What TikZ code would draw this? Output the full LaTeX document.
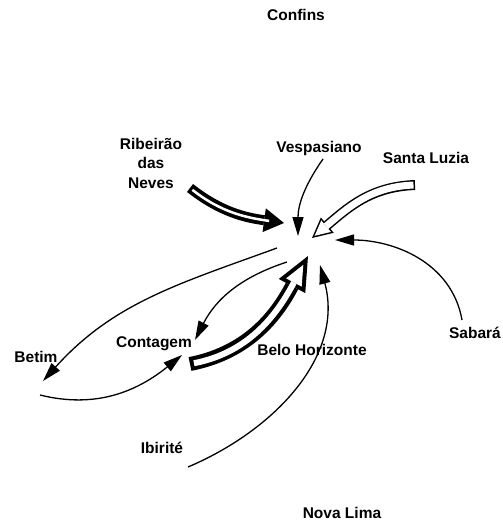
\documentclass[tikz,border=0pt]{standalone}
\usepackage{fontspec}
\setmainfont{Liberation Sans}
\usetikzlibrary{arrows.meta}

\begin{document}
\begin{tikzpicture}
   [x=1pt,y=1pt,
    city/.style={font=\fontsize{15.5}{19.5}\selectfont\bfseries, inner sep=0pt, anchor=base},
    flow/.style={line width=1.3pt, -{Triangle[length=19pt,width=11pt]}},
    heavyflow/.style={white, line width=2.5pt, shorten <=3pt, shorten >=15pt,
      preaction={draw=black, line width=10pt, shorten <=0pt, shorten >=0pt,
        -{Triangle[length=20pt,width=24pt,line width=0pt]}}},
    slimflow/.style={white, line width=7pt, shorten <=1.5pt, shorten >=3.4pt,
      -{Triangle[length=15pt,width=15pt,line width=0pt]},
      preaction={draw=black, line width=10pt, shorten <=0pt, shorten >=0pt,
        -{Triangle[length=20pt,width=20pt,line width=0pt]}}},
    wideflow/.style={white, line width=6pt, shorten <=4pt, shorten >=10pt,
      -{Triangle[length=20pt,width=17.6pt,line width=0pt]},
      preaction={draw=black, line width=14pt, shorten <=0pt, shorten >=0pt,
        -{Triangle[length=34pt,width=30pt,line width=0pt]}}}]

\useasboundingbox (0,0) rectangle (503,-523);

\node [city] (conf) at (296,-20.5) {Confins};
\node [city, anchor=center, align=center] (rib) at (151,-163) {Ribeir\~ao\\das\\Neves};
\node [city] (vesp) at (319,-152.5) {Vespasiano};
\node [city] (santa) at (426,-163.5) {Santa Luzia};
\node [city] (sab) at (475,-338.5) {Sabar\'a};
\node [city] (betim) at (36,-362.5) {Betim};
\node [city] (cont) at (154,-347.5) {Contagem};
\node [city] (bh) at (312,-355.5) {Belo Horizonte};
\node [city] (ibi) at (162,-453.5) {Ibirit\'e};
\node [city] (nova) at (342,-518.5) {Nova Lima};

% ends of the flows
\coordinate (ribT) at (190,-188);   \coordinate (ribH) at (284,-223);
\coordinate (vespT) at (323,-159);  \coordinate (vespH) at (298,-236);
\coordinate (santaT) at (415,-185); \coordinate (santaH) at (312,-238);
\coordinate (sabT) at (462,-320);   \coordinate (sabH) at (335,-240);
\coordinate (betT) at (277,-248);   \coordinate (betH) at (43,-381);
\coordinate (bcT) at (40,-395);     \coordinate (bcH) at (182,-355);
\coordinate (hcT) at (287,-262);    \coordinate (hcH) at (195,-340);
\coordinate (cbT) at (190,-364);    \coordinate (cbH) at (308,-256);
\coordinate (nlT) at (188,-467);    \coordinate (nlH) at (320,-265);

\draw [flow] (vespT) to[out=235,in=90] (vespH);
\draw [flow] (sabT) to[out=100,in=0] (sabH);
\draw [flow] (betT) to[out=200,in=48] (betH);
\draw [flow] (bcT) to[out=-14,in=-141] (bcH);
\draw [flow] (hcT) to[out=198,in=63] (hcH);
\draw [flow] (nlT) to[out=23,in=-75] (nlH);
\draw [heavyflow] (ribT) to[out=-38,in=172] (ribH);
\draw [slimflow] (santaT) to[out=182,in=40] (santaH);
\draw [wideflow] (cbT) to[out=11,in=-118] (cbH);
\end{tikzpicture}
\end{document}
